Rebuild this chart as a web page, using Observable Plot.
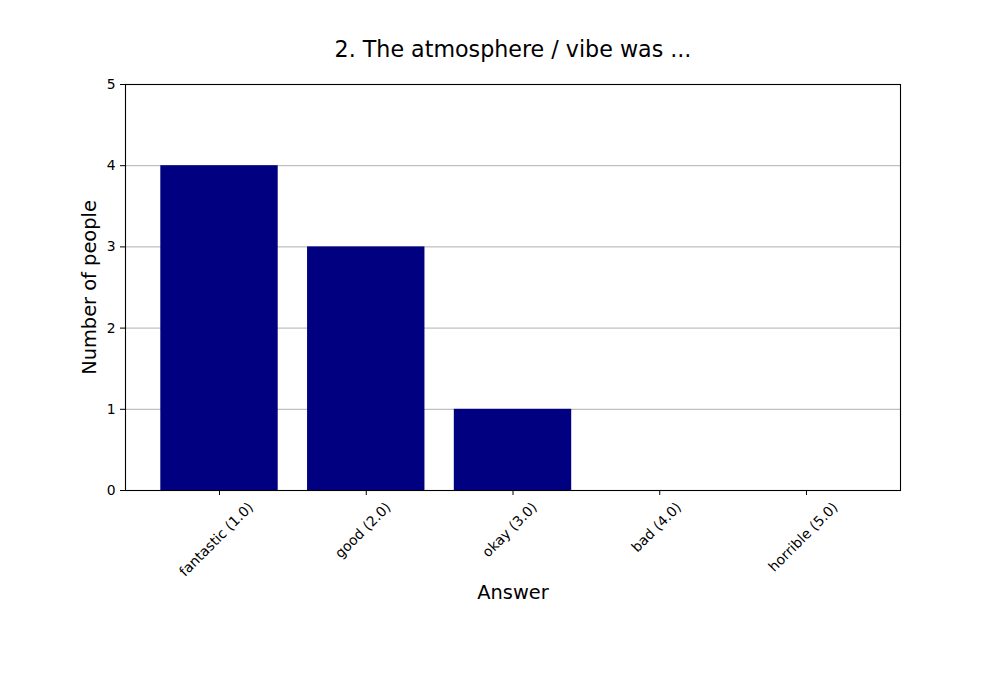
<!DOCTYPE html>
<html>
<head>
<meta charset="utf-8">
<script src="https://cdn.jsdelivr.net/npm/d3@7"></script>
<script src="https://cdn.jsdelivr.net/npm/@observablehq/plot@0.6"></script>
<style>
  html, body { margin: 0; padding: 0; background: #fff; }
  svg { font-family: "DejaVu Sans", sans-serif; }
</style>
</head>
<body>
<div id="chart"></div>
<script>
const title = "2. The atmosphere / vibe was ...";
const xLabel = "Answer";
const yLabel = "Number of people";
const answers = ["fantastic (1.0)", "good (2.0)", "okay (3.0)", "bad (4.0)", "horrible (5.0)"];
const counts = [4, 3, 1, 0, 0];
const yTicks = [0, 1, 2, 3, 4, 5];

const data = answers.map((a, i) => ({answer: a, count: counts[i]}));

const chart = Plot.plot({
  width: 1000,
  height: 700,
  marginTop: 84,
  marginBottom: 210,
  marginLeft: 125,
  marginRight: 100,
  style: {fontFamily: "DejaVu Sans, sans-serif", fontSize: "13.9px", color: "black", background: "white"},
  x: {type: "band", domain: answers, paddingInner: 0.2, paddingOuter: 0.2406, round: false, label: null},
  y: {domain: [0, 5], label: null},
  marks: [
    Plot.gridY(yTicks, {stroke: "#b0b0b0", strokeOpacity: 1, strokeWidth: 1}),
    Plot.barY(data, {x: "answer", y: "count", fill: "#000080"}),
    Plot.frame({stroke: "black", strokeWidth: 1.1}),
    Plot.axisY(yTicks, {tickSize: 5, tickPadding: 5, fontSize: 13.9, label: null, stroke: "black", tickFormat: d3.format("d")}),
    Plot.axisX({tickSize: 5, label: null, stroke: "black", text: null}),
    Plot.text(answers, {x: d => d, frameAnchor: "bottom", rotate: -45, textAnchor: "middle", lineAnchor: "middle", fontSize: 13.9, fill: "black"}),
    Plot.text([title], {frameAnchor: "top", dy: -35, lineAnchor: "middle", fontSize: 22.2, fill: "black"}),
    Plot.text([xLabel], {frameAnchor: "bottom", dy: 102, lineAnchor: "middle", fontSize: 19.4, fill: "black"}),
    Plot.text([yLabel], {frameAnchor: "left", dx: -36, rotate: -90, textAnchor: "middle", lineAnchor: "middle", fontSize: 19.4, fill: "black"})
  ]
});

document.getElementById("chart").appendChild(chart);

// Matplotlib-style centred rotated tick labels
const xs = chart.scale("x");
const y0 = 490;
d3.select(chart).selectAll("text")
  .filter(function() { return answers.includes(this.textContent); })
  .each(function() {
    const label = this.textContent;
    const x = xs.apply(label);
    const L = this.getComputedTextLength();
    const h = 16;
    const cy = y0 + 12 + (L + h) * Math.SQRT1_2 / 2;
    this.removeAttribute("x");
    this.removeAttribute("y");
    this.setAttribute("transform", `translate(${x},${cy}) rotate(-45)`);
  });
</script>
</body>
</html>
